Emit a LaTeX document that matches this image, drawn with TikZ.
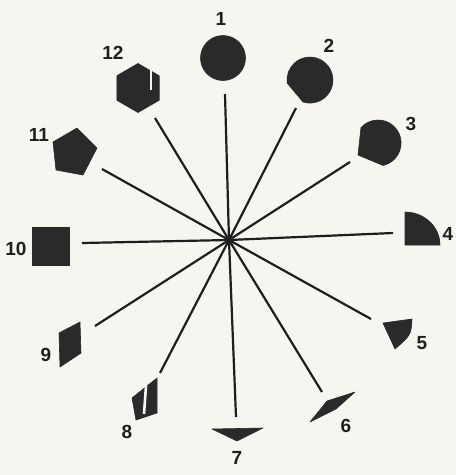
\documentclass[tikz,border=0pt]{standalone}
\usepackage{fontspec}
\setmainfont{Liberation Sans}
\definecolor{Paper}{HTML}{F6F5F0}
\definecolor{Ink}{HTML}{1E1E1E}
\definecolor{Blot}{HTML}{2A2A2A}

\begin{document}
\begin{tikzpicture}[x=1pt,y=-1pt,
    spoke/.style={Ink,line width=2.2pt},
    blot/.style={fill=Blot,draw=Blot,line width=0.6pt,line join=round},
    slit/.style={Paper,line width=2.6pt},
    num/.style={text=Ink,font=\fontsize{19}{19}\selectfont\bfseries,inner sep=0pt}]
  \fill[Paper] (0,0) rectangle (456,475);
  \useasboundingbox (0,0) rectangle (456,475);
  \coordinate (c) at (229,240);
  % where the spokes stop
  \coordinate (e1) at (225,94);
  \coordinate (e2) at (296,108);
  \coordinate (e3) at (350,162);
  \coordinate (e4) at (393,233);
  \coordinate (e5) at (371,319);
  \coordinate (e6) at (322,392);
  \coordinate (e7) at (236,417);
  \coordinate (e8) at (160,373);
  \coordinate (e9) at (95,326);
  \coordinate (e10) at (82,243);
  \coordinate (e11) at (102,169);
  \coordinate (e12) at (155,118);
  \foreach \i in {1,...,12}
    \draw[spoke] (c) -- (e\i);
  % the shapes, going round
  \filldraw[blot] (223,58) circle[radius=22.5];
  \filldraw[blot] (303,102) arc[start angle=107.6,end angle=-187.4,radius=23] -- cycle;
  \filldraw[blot] (361,127.6) arc[start angle=222,end angle=437.7,radius=23] -- (358,155) -- cycle;
  \filldraw[blot] (405,245) -- (405,212) arc[start angle=270,end angle=360,x radius=35,y radius=33] -- cycle;
  \filldraw[blot] (383,323) -- (412,319) .. controls (411,335) .. (395,349) -- cycle;
  \filldraw[blot] (310,422) -- (327,401) -- (355,392) -- (336,409) -- cycle;
  \filldraw[blot] (212,429) -- (263,428) -- (237,441) -- cycle;
  \filldraw[blot] (132,398) -- (157,378) -- (157,413) -- (136,420) -- cycle;
  \draw[slit] (146,386) -- (144,414);
  \filldraw[blot] (80,322) -- (59,333) -- (60,367) -- (81,353) -- cycle;
  \filldraw[blot] (32,227) rectangle (69,265);
  \filldraw[blot] (77,128) -- (97,148) -- (83,175) -- (56,170) -- (53,142) -- cycle;
  \filldraw[blot] (138,63.5) -- (159.2,75.75) -- (159.2,100.25) -- (138,112.5)
    -- (116.8,100.25) -- (116.8,75.75) -- cycle;
  \draw[slit] (151,68) -- (151,90);
  % numbers
  \node[num] (n1) at (221,19) {1};
  \node[num] (n2) at (329,46) {2};
  \node[num] (n3) at (411,124) {3};
  \node[num] (n4) at (448,234) {4};
  \node[num] (n5) at (422,343) {5};
  \node[num] (n6) at (346,426) {6};
  \node[num] (n7) at (237,458) {7};
  \node[num] (n8) at (127,432) {8};
  \node[num] (n9) at (46,355) {9};
  \node[num] (n10) at (16,249) {10};
  \node[num] (n11) at (39,135) {11};
  \node[num] (n12) at (113,53) {12};
\end{tikzpicture}
\end{document}
